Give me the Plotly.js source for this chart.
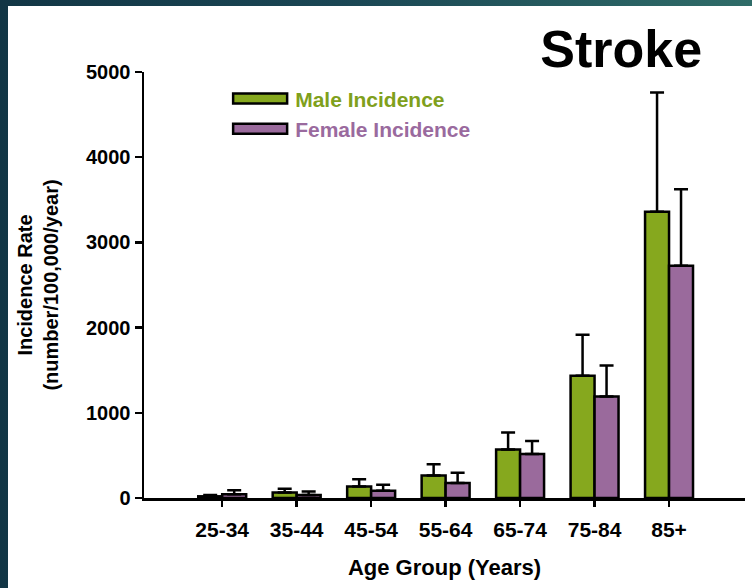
<!DOCTYPE html>
<html><head><meta charset="utf-8">
<script src="https://cdn.plot.ly/plotly-3.0.1.min.js"></script>
<style>
html,body{margin:0;padding:0;width:752px;height:588px;overflow:hidden;}
body{background:linear-gradient(90deg,#123645 0%,#1a4654 45%,#2f6c68 100%);}
#chart{position:absolute;left:8px;top:6px;width:744px;height:582px;background:#fff;}
</style></head><body><div id="chart"></div>
<script>
const ageGroups = ['25-34','35-44','45-54','55-64','65-74','75-84','85+'];
const maleIncidence = [20, 65, 135, 265, 570, 1435, 3360];
const maleError = [15, 45, 85, 130, 200, 480, 1400];
const femaleIncidence = [45, 35, 85, 175, 515, 1190, 2725];
const femaleError = [45, 40, 70, 120, 155, 365, 900];
const zeros = ageGroups.map(() => 0);

const FONT = 'Liberation Sans, Arial, sans-serif';
const GREEN = '#86a81e';
const PURPLE = '#9a6a9c';

const errStyle = (arr) => ({type:'data', array:arr, arrayminus:zeros, symmetric:false,
  visible:true, color:'#000', thickness:2.5, width:7});

const traces = [
  {type:'bar', x:ageGroups, y:maleIncidence, name:'<span style="color:#7fa01c">Male Incidence</span>',
   marker:{color:GREEN, line:{color:'#000', width:2.5}}, error_y:errStyle(maleError)},
  {type:'bar', x:ageGroups, y:femaleIncidence, name:'<span style="color:#9a6a9e">Female Incidence</span>',
   marker:{color:PURPLE, line:{color:'#000', width:2.5}}, error_y:errStyle(femaleError)}
];

const layout = {
  width:744, height:582,
  paper_bgcolor:'#ffffff', plot_bgcolor:'#ffffff',
  margin:{l:136, r:7, t:66, b:90},
  barmode:'group', bargap:0.356, bargroupgap:0,
  font:{family:FONT, color:'#000'},
  title:{text:'Stroke', xref:'container', yref:'container', x:0.933, xanchor:'right', y:0.926, yanchor:'middle',
    font:{family:FONT, size:52, weight:'bold', color:'#000'}},
  showlegend:true,
  legend:{x:0.135, xanchor:'left', y:0.985, yanchor:'top', bgcolor:'rgba(0,0,0,0)',
    font:{family:FONT, size:21, weight:'bold'}, itemwidth:60, traceorder:'normal'},
  xaxis:{type:'category', range:[-1.05, 7.02], showline:true, linecolor:'#000', linewidth:2.5,
    ticks:'outside', ticklen:6, tickwidth:2.5, tickcolor:'#000', showgrid:false, zeroline:false,
    ticklabelstandoff:5,
    tickfont:{family:FONT, size:21, weight:'bold'},
    title:{text:'Age Group (Years)', font:{family:FONT, size:22, weight:'bold'}, standoff:20}},
  yaxis:{range:[0,5000], dtick:1000, showline:true, linecolor:'#000', linewidth:2.5,
    ticks:'outside', ticklen:7, tickwidth:2.5, tickcolor:'#000', showgrid:false, zeroline:false,
    tickfont:{family:FONT, size:20, weight:'bold'},
    title:{text:'Incidence Rate<br>(number/100,000/year)', font:{family:FONT, size:20, weight:'bold'}, standoff:22}}
};

Plotly.newPlot('chart', traces, layout, {staticPlot:true, displayModeBar:false}).then(() => {
  document.querySelectorAll('#chart .legendpoints path').forEach(p => {
    if (p.getAttribute('d') && p.getAttribute('d').indexOf('M6,6H-6V-6H6Z') === 0) {
      p.setAttribute('d', 'M27,5H-27V-5H27Z');
    }
  });
});
</script></body></html>
